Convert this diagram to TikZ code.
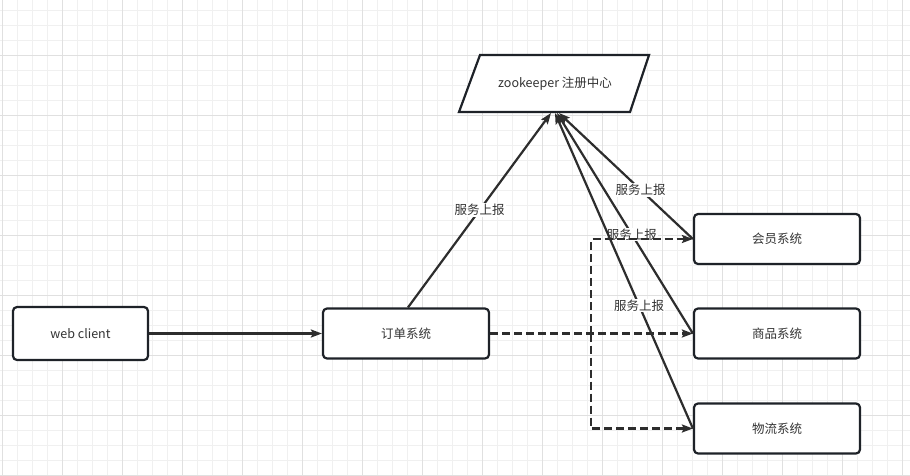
\documentclass[tikz,border=0pt]{standalone}
\usepackage{fontspec}
\setmainfont{Noto Sans CJK SC}
\usetikzlibrary{arrows.meta}
\definecolor{txt}{RGB}{51,51,51}
\definecolor{edge}{RGB}{45,45,45}
\definecolor{bord}{RGB}{30,34,40}
\definecolor{gmin}{RGB}{240,240,240}
\definecolor{gmaj}{RGB}{224,224,224}
\tikzset{
  sysbox/.style={draw=bord, line width=2.2pt, rounded corners=4pt, fill=white, minimum width=166pt, minimum height=50pt, inner sep=0pt, font=\fontsize{12.5pt}{15pt}\selectfont, text=txt},
  conn/.style={draw=edge, line width=2.2pt, -{Stealth[length=11pt,width=8pt,inset=2pt]}},
  dconn/.style={conn, dash pattern=on 8pt off 4pt},
  lbl/.style={fill=white, inner sep=1pt, font=\fontsize{12.5pt}{15pt}\selectfont, text=txt},
}
\begin{document}
\begin{tikzpicture}[x=1pt,y=-1pt]
\useasboundingbox (0,0) rectangle (910,475);
\fill[white] (0,0) rectangle (910,475);
% grid
\foreach \x in {2,17,...,910} \draw[gmin, line width=1pt] (\x,0) -- (\x,475);
\foreach \y in {10,25,...,475} \draw[gmin, line width=1pt] (0,\y) -- (910,\y);
\foreach \x in {2,62,...,910} \draw[gmaj, line width=1pt] (\x,0) -- (\x,475);
\foreach \y in {55,115,...,475} \draw[gmaj, line width=1pt] (0,\y) -- (910,\y);

% zookeeper parallelogram
\draw[bord, line width=2.2pt, fill=white, line join=miter] (480,55) -- (649,55) -- (630,112) -- (459,112) -- cycle;
\node[font=\fontsize{12.5pt}{15pt}\selectfont, text=txt] (zk) at (555,84) {zookeeper 注册中心};
\coordinate (zkb) at (555,113);

% nodes
\node[sysbox, minimum width=135pt, minimum height=53pt] (web) at (80.5,333.5) {web client};
\node[sysbox] (dd) at (406,333.5) {订单系统};
\node[sysbox] (hy) at (777,239) {会员系统};
\node[sysbox] (sp) at (777,333.5) {商品系统};
\node[sysbox] (wl) at (777,428.5) {物流系统};

% solid connectors
\draw[conn] (web.east) -- (dd.west);
\draw[conn] ([xshift=2pt]dd.north) -- node[lbl, pos=0.5] {服务上报} ([xshift=-4pt]zkb);
\draw[conn] (hy.west) -- node[lbl, pos=0.39] {服务上报} ([xshift=4pt]zkb);
\draw[conn] (sp.west) -- node[lbl, pos=0.45] {服务上报} ([xshift=2pt]zkb);
\draw[conn] (wl.west) -- node[lbl, pos=0.39] {服务上报} ([xshift=0pt]zkb);

% dashed connectors
\draw[dconn] (dd.east) -- (sp.west);
\coordinate (split) at (591,333.5);
\draw[dconn] (split) |- (hy.west);
\draw[dconn] (split) |- (wl.west);
\end{tikzpicture}
\end{document}
